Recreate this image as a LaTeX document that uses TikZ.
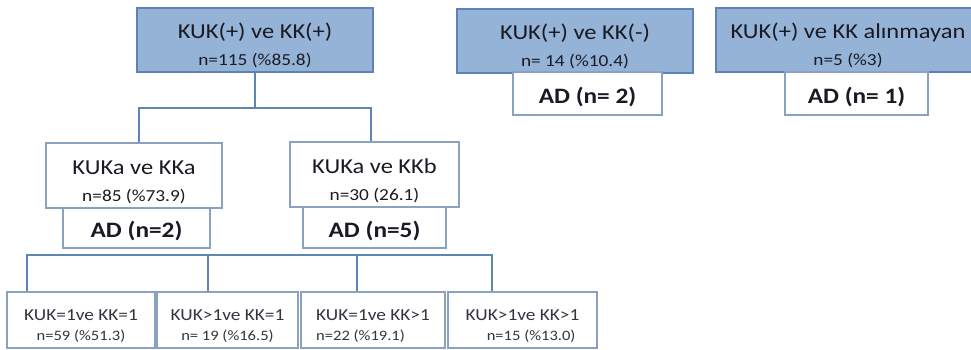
\documentclass[tikz,border=0pt]{standalone}
\usepackage{fontspec}
\setmainfont{Carlito}[FakeStretch=1.15]
\usetikzlibrary{calc}
\definecolor{bluefill}{HTML}{95B3D7}
\definecolor{blueedge}{HTML}{5B83B8}
\definecolor{linecol}{HTML}{5F85B5}
\definecolor{whiteedge}{HTML}{8AA2C0}
\definecolor{txt}{HTML}{1A1A24}
\definecolor{txtb}{HTML}{34343E}
\newcommand{\bigf}{\fontsize{21.3}{27}\selectfont\rule{0pt}{27pt}}
\newcommand{\smallf}{\fontsize{16.8}{27}\selectfont}
\newcommand{\adf}{\fontsize{22}{25}\selectfont\bfseries\rule{0pt}{23pt}}
\newcommand{\botf}{\fontsize{16.8}{20}\selectfont\rule{0pt}{22.5pt}}
\newcommand{\botsf}{\fontsize{14.4}{20}\selectfont}
\begin{document}
\begin{tikzpicture}[x=1pt,y=-1pt,
  bluebox/.style={draw=blueedge,fill=bluefill,line width=1.5pt,minimum height=64pt,inner sep=0pt,align=center,text=txt,font=\smallf},
  whitebox/.style={draw=whiteedge,fill=white,line width=1.3pt,inner sep=0pt,align=center,text=txt,font=\smallf},
  adbox/.style={whitebox,font=\fontsize{22}{25}\selectfont\bfseries},
  botbox/.style={whitebox,minimum height=56pt,text=txtb,font=\botsf},
  conn/.style={draw=linecol,line width=2.6pt}]
\useasboundingbox (0,0) rectangle (971,349);
% top row
\node[bluebox,minimum width=236pt] (top1) at (255,40) {\bigf KUK(+) ve KK(+)\\\smallf n=115 (\%85.8)};
\node[bluebox,minimum width=236pt] (top2) at (575,41) {\bigf KUK(+) ve KK(-)\\\smallf n= 14 (\%10.4)};
\node[bluebox,minimum width=264pt] (top3) at (848,40) {\bigf KUK(+) ve KK alınmayan\\\smallf n=5 (\%3)};
\node[adbox,minimum width=149pt,minimum height=43pt] (ad2top) at (587.5,93.5) {\adf AD (n= 2)};
\node[adbox,minimum width=143pt,minimum height=43pt] (ad1top) at (856.5,93.5) {\adf AD (n= 1)};
% second level
\node[whitebox,minimum width=176pt,minimum height=65pt] (kka) at (134,175.5) {\bigf KUKa ve KKa\\\smallf n=85 (\%73.9)};
\node[whitebox,minimum width=169pt,minimum height=65pt] (kkb) at (374.5,174.5) {\bigf KUKa ve KKb\\\smallf n=30 (26.1)};
\node[adbox,minimum width=147pt,minimum height=40pt] (ad2) at (136.5,228) {\adf AD (n=2)};
\node[adbox,minimum width=143pt,minimum height=41pt] (ad5) at (374.5,227.5) {\adf AD (n=5)};
% bottom row
\node[botbox,minimum width=148pt] (b1) at (81,320) {\botf KUK=1ve KK=1\\\botsf n=59 (\%51.3)};
\node[botbox,minimum width=141pt] (b2) at (227.5,320) {\botf KUK>1ve KK=1\\\botsf n= 19 (\%16.5)};
\node[botbox,minimum width=144pt,align=left] (b3) at (373,320) {\botf KUK=1ve KK>1\\\botsf n=22 (\%19.1)};
\node[botbox,minimum width=149pt] (b4) at (522.5,320) {\botf KUK>1ve KK>1\\\botsf \hspace*{1.2em}n=15 (\%13.0)};
% connectors upper
\coordinate (j1) at (255,108);
\coordinate (jl) at (139,108);
\coordinate (jr) at (371,108);
\draw[conn] (top1.south) -- (j1);
\draw[conn] (jl |- kka.north) -- (jl) -- (jr) -- (jr |- kkb.north);
% connectors lower
\coordinate (h1) at (27,255);
\coordinate (h2) at (208,255);
\coordinate (h3) at (357,255);
\coordinate (h4) at (492,255);
\draw[conn] (h1 |- b1.north) -- (h1) -- (h4) -- (h4 |- b4.north);
\draw[conn] (h2) -- (h2 |- b2.north);
\draw[conn] (h3) -- (h3 |- b3.north);
\end{tikzpicture}
\end{document}
